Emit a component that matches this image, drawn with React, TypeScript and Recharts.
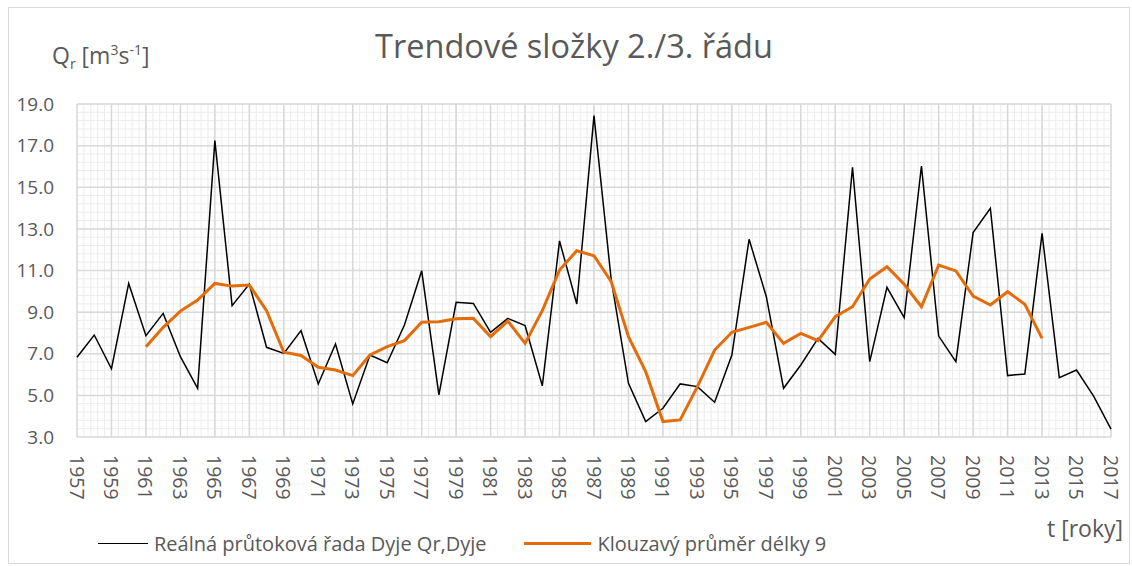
import React from 'react';
import { LineChart, Line, XAxis, YAxis, CartesianGrid } from 'recharts';

const years = Array.from({ length: 61 }, (_, i) => 1957 + i);

const realFlow = [
  6.83, 7.9, 6.28, 10.38, 7.87, 8.94, 6.86, 5.34, 17.24, 9.31,
  10.35, 7.31, 7.02, 8.11, 5.55, 7.47, 4.59, 6.94, 6.57, 8.38,
  10.99, 5.02, 9.47, 9.42, 8.03, 8.7, 8.35, 5.46, 12.42, 9.39,
  18.44, 10.55, 5.58, 3.74, 4.38, 5.55, 5.42, 4.67, 6.94, 12.5,
  9.74, 5.34, 6.46, 7.74, 6.97, 15.96, 6.62, 10.19, 8.73, 16.02,
  7.85, 6.62, 12.82, 13.99, 5.95, 6.03, 12.78, 5.85, 6.22, 4.95,
  3.38,
];

// moving average of length 9, 1961..2013
const movingAvg = [
  7.34, 8.27, 9.05, 9.58, 10.38, 10.25, 10.3, 9.07, 7.07, 6.92,
  6.35, 6.22, 5.95, 6.94, 7.34, 7.63, 8.51, 8.54, 8.68, 8.7,
  7.82, 8.57, 7.5, 9.07, 11.02, 11.95, 11.71, 10.46, 7.82, 6.14,
  3.74, 3.82, 5.42, 7.18, 8.03, 8.27, 8.51, 7.5, 7.98, 7.63,
  8.78, 9.26, 10.59, 11.18, 10.34, 9.26, 11.26, 10.98, 9.77, 9.34,
  9.98, 9.38, 7.74,
];
const avgStartYear = 1961;

const yTicks = [3, 5, 7, 9, 11, 13, 15, 17, 19];
const xTicks = years.filter((y) => (y - 1957) % 2 === 0);

const data = years.map((year, i) => {
  const j = year - avgStartYear;
  return {
    year,
    real: realFlow[i],
    avg: j >= 0 && j < movingAvg.length ? movingAvg[j] : null,
  };
});

// grid lines (5 minor steps per major step)
const minorY: number[] = [];
for (let v = 3; v <= 19.0001; v += 0.4) minorY.push(Math.round(v * 10) / 10);
const minorX: number[] = [];
for (let v = 1957; v <= 2017.0001; v += 0.4) minorX.push(Math.round(v * 10) / 10);

const FONT = '"Open Sans", "Noto Sans", sans-serif';
const TXT = '#595959';

const XTick = (props: any) => {
  const { x, y, payload } = props;
  return (
    <text
      x={x}
      y={y}
      transform={`rotate(90 ${x} ${y})`}
      textAnchor="start"
      dominantBaseline="central"
      fontSize={19.5}
      fontFamily={FONT}
      fill={TXT}
    >
      {payload.value}
    </text>
  );
};

export default function App() {
  return (
    <div style={{ position: 'absolute', left: 0, top: 0, width: 1132, height: 566, background: '#fff', fontFamily: FONT }}>
      <div style={{ position: 'absolute', left: 8, top: 7, width: 1120, height: 555, border: '1px solid #d9d9d9' }} />
      <div style={{ position: 'absolute', left: 0, width: 1148, top: 26, textAlign: 'center', fontSize: 32.5, color: TXT, lineHeight: '40px' }}>
        Trendové složky 2./3. řádu
      </div>
      <div style={{ position: 'absolute', left: 52, top: 34, fontSize: 23, color: TXT, lineHeight: '32px', whiteSpace: 'nowrap' }}>
        Q<sub style={{ fontSize: 14 }}>r</sub> [m<sup style={{ fontSize: 14 }}>3</sup>s<sup style={{ fontSize: 14 }}>-1</sup>]
      </div>
      <div style={{ position: 'absolute', left: 1047, top: 512, fontSize: 23, color: TXT, lineHeight: '32px', whiteSpace: 'nowrap' }}>
        t [roky]
      </div>
      <div style={{ position: 'absolute', left: 98, top: 529, height: 28, display: 'flex', alignItems: 'center', fontSize: 20, color: TXT, whiteSpace: 'nowrap' }}>
        <span style={{ display: 'inline-block', width: 50, borderTop: '1.5px solid #000', marginRight: 6 }} />
        <span>Reálná průtoková řada Dyje Qr,Dyje</span>
        <span style={{ display: 'inline-block', width: 67, borderTop: '3px solid #e46c0a', marginLeft: 37, marginRight: 7 }} />
        <span>Klouzavý průměr délky 9</span>
      </div>
      <div style={{ position: 'absolute', left: 0, top: 0 }}>
        <LineChart width={1132} height={566} data={data} margin={{ top: 104, right: 21, left: 0, bottom: 0 }}>
          <CartesianGrid stroke="#ececec" strokeWidth={1} horizontalValues={minorY} verticalValues={minorX} />
          <CartesianGrid stroke="#d9d9d9" strokeWidth={1.5} horizontalValues={yTicks} verticalValues={xTicks} />
          <XAxis
            dataKey="year"
            type="number"
            domain={[1957, 2017]}
            ticks={xTicks}
            interval={0}
            axisLine={false}
            tickLine={false}
            tickSize={0}
            tickMargin={18}
            height={129}
            tick={<XTick />}
          />
          <YAxis
            type="number"
            domain={[3, 19]}
            ticks={yTicks}
            interval={0}
            width={77}
            axisLine={false}
            tickLine={false}
            tickSize={0}
            tickMargin={23}
            tickFormatter={(v: number) => v.toFixed(1)}
            tick={{ fill: TXT, fontSize: 19, fontFamily: FONT }}
          />
          <Line type="linear" dataKey="real" stroke="#000" strokeWidth={1.5} dot={false} isAnimationActive={false} />
          <Line type="linear" dataKey="avg" stroke="#e46c0a" strokeWidth={3} dot={false} isAnimationActive={false} />
        </LineChart>
      </div>
    </div>
  );
}
